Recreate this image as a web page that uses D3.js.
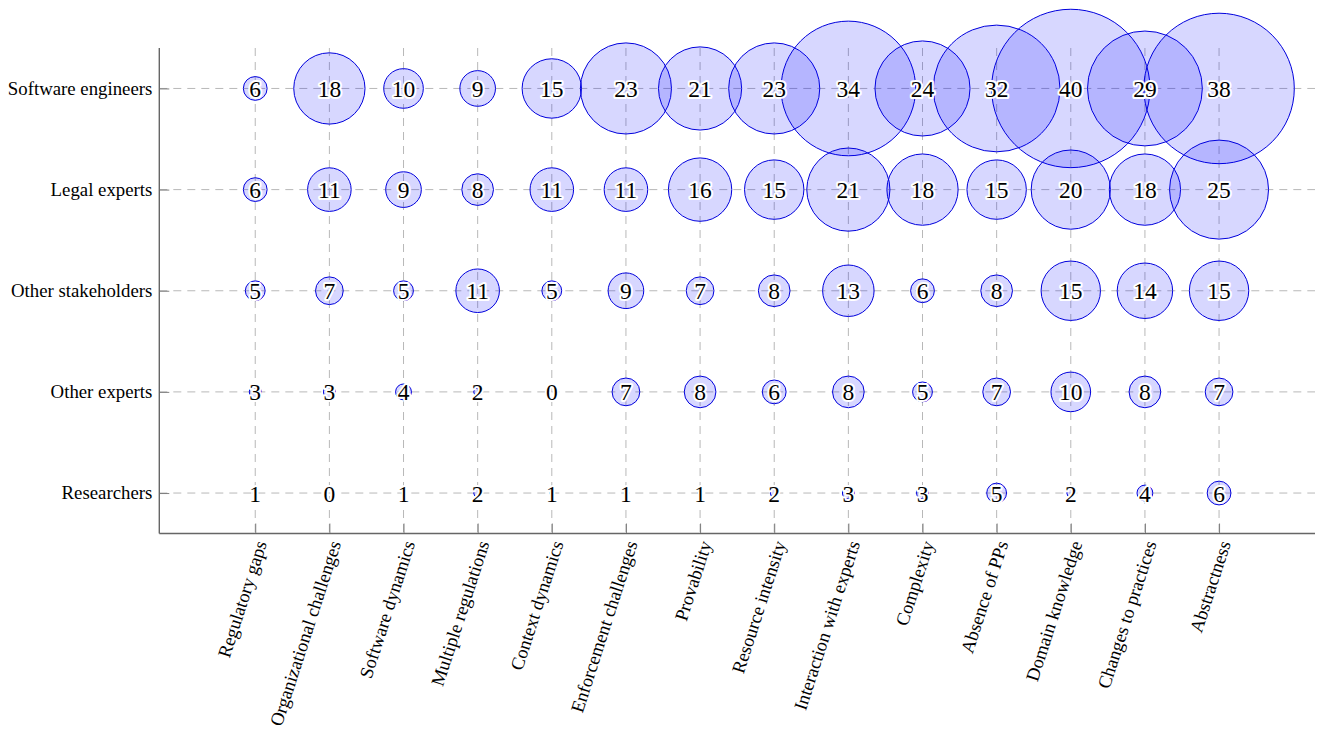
<!DOCTYPE html>
<html>
<head>
<meta charset="utf-8">
<script src="https://cdn.jsdelivr.net/npm/d3@7/dist/d3.min.js"></script>
<style>
  html, body { margin: 0; padding: 0; background: #fff; }
  svg { display: block; }
  text { font-family: "Liberation Serif", "Times New Roman", serif; }
</style>
</head>
<body>
<svg id="chart" width="1323" height="731"></svg>
<script>
// ---- data ----
const challenges = [
  "Regulatory gaps", "Organizational challenges", "Software dynamics",
  "Multiple regulations", "Context dynamics", "Enforcement challenges",
  "Provability", "Resource intensity", "Interaction with experts",
  "Complexity", "Absence of PPs", "Domain knowledge",
  "Changes to practices", "Abstractness"
];
// top to bottom as displayed
const groups = ["Software engineers", "Legal experts", "Other stakeholders", "Other experts", "Researchers"];

const softwareEngineers = [6, 18, 10, 9, 15, 23, 21, 23, 34, 24, 32, 40, 29, 38];
const legalExperts      = [6, 11, 9, 8, 11, 11, 16, 15, 21, 18, 15, 20, 18, 25];
const otherStakeholders = [5, 7, 5, 11, 5, 9, 7, 8, 13, 6, 8, 15, 14, 15];
const otherExperts      = [3, 3, 4, 2, 0, 7, 8, 6, 8, 5, 7, 10, 8, 7];
const researchers       = [1, 0, 1, 2, 1, 1, 1, 2, 3, 3, 5, 2, 4, 6];

const seriesValues = [softwareEngineers, legalExperts, otherStakeholders, otherExperts, researchers];

const cells = [];
groups.forEach((g, gi) => {
  challenges.forEach((c, ci) => {
    cells.push({ group: g, challenge: c, value: seriesValues[gi][ci] });
  });
});

// ---- layout ----
const plotLeft = 159.3, plotRight = 1315, plotTop = 48, plotBottom = 533.5;
const svg = d3.select("#chart");

const x = d3.scalePoint().domain(challenges).range([plotLeft, plotRight]).padding(1.294);
const y = d3.scalePoint().domain(groups).range([plotTop, plotBottom]).padding(0.4);
const r = d3.scaleLinear().domain([0, 40]).range([0, 79.2]);

const gridColor = "#b8b8b8";
const axisColor = "#666";

// grid
const grid = svg.append("g");
grid.selectAll("line.vg").data(challenges).enter().append("line")
  .attr("x1", d => x(d)).attr("x2", d => x(d))
  .attr("y1", plotTop).attr("y2", plotBottom)
  .attr("stroke", gridColor).attr("stroke-width", 1)
  .attr("stroke-dasharray", "8,6");
grid.selectAll("line.hg").data(groups).enter().append("line")
  .attr("y1", d => y(d)).attr("y2", d => y(d))
  .attr("x1", plotLeft).attr("x2", plotRight)
  .attr("stroke", gridColor).attr("stroke-width", 1)
  .attr("stroke-dasharray", "8,6");

// axes
const xAxis = d3.axisBottom(x).tickSizeInner(-10).tickSizeOuter(0).tickFormat("");
const gx = svg.append("g").attr("transform", `translate(0,${plotBottom})`).call(xAxis);
gx.select(".domain").attr("stroke", axisColor).attr("stroke-width", 1.4)
  .attr("d", `M${plotLeft},0H${plotRight}`);
gx.selectAll(".tick line").attr("stroke", axisColor).attr("stroke-width", 0.8);

const yAxis = d3.axisLeft(y).tickSizeInner(-10).tickSizeOuter(0).tickFormat("");
const gy = svg.append("g").attr("transform", `translate(${plotLeft},0)`).call(yAxis);
gy.select(".domain").attr("stroke", axisColor).attr("stroke-width", 1.4)
  .attr("d", `M0,${plotTop}V${plotBottom}`);
gy.selectAll(".tick line").attr("stroke", axisColor).attr("stroke-width", 0.8);

// y labels
svg.append("g").selectAll("text").data(groups).enter().append("text")
  .attr("x", plotLeft - 7).attr("y", d => y(d)).attr("dy", "0.33em")
  .attr("text-anchor", "end")
  .attr("font-size", "18.8px").attr("fill", "#000")
  .text(d => d);

// x labels
svg.append("g").selectAll("text").data(challenges).enter().append("text")
  .attr("transform", d => `translate(${x(d) + 6},${plotBottom + 8}) rotate(-72)`)
  .attr("dy", "0.33em")
  .attr("text-anchor", "end")
  .attr("font-size", "18.6px").attr("fill", "#000")
  .text(d => d);

// bubbles
svg.append("g").selectAll("circle").data(cells.filter(d => d.value > 0)).enter().append("circle")
  .attr("cx", d => x(d.challenge)).attr("cy", d => y(d.group))
  .attr("r", d => r(d.value))
  .attr("fill", "rgba(0,0,255,0.155)")
  .attr("stroke", "#0000dd").attr("stroke-width", 1);

// value labels with white halo
svg.append("g").selectAll("text").data(cells).enter().append("text")
  .attr("x", d => x(d.challenge)).attr("y", d => y(d.group))
  .attr("dy", "0.36em")
  .attr("text-anchor", "middle")
  .attr("font-size", "23.5px")
  .attr("fill", "#000")
  .attr("stroke", "#fff").attr("stroke-width", 4)
  .attr("stroke-linejoin", "round")
  .attr("paint-order", "stroke")
  .text(d => d.value);
</script>
</body>
</html>
